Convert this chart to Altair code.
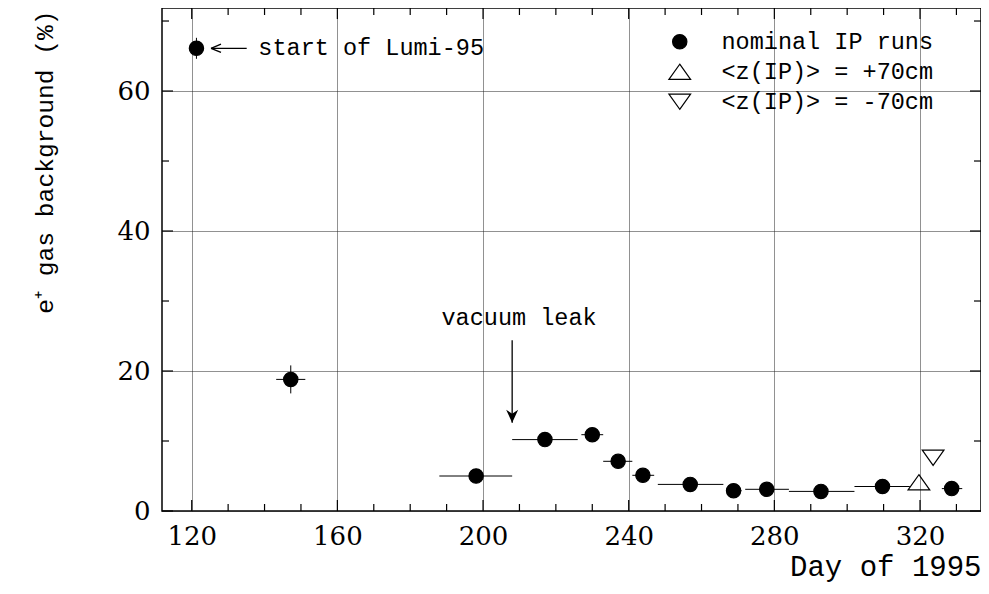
import altair as alt
import pandas as pd

# ---- data ----
days = [121.3, 147.2, 198.1, 217.0, 230.0, 237.1, 243.9, 256.9, 268.8, 277.9, 292.8, 309.7, 328.7]
values = [66.1, 18.8, 5.0, 10.2, 10.9, 7.1, 5.1, 3.8, 2.9, 3.1, 2.8, 3.5, 3.2]
x_lo = [120.5, 143.2, 188.0, 208.0, 227.0, 233.0, 241.0, 248.0, 267.0, 272.0, 284.0, 302.0, 326.0]
x_hi = [122.0, 151.2, 208.0, 226.0, 233.0, 241.0, 247.0, 266.0, 271.0, 284.0, 302.0, 317.2, 331.6]
y_err = [1.5, 2.0, 0.3, 0.3, 0.3, 0.3, 0.3, 0.3, 0.3, 0.3, 0.3, 0.3, 0.3]

z_days = [319.7, 323.6]
z_values = [4.1, 7.6]

series_names = ["nominal IP runs", "<z(IP)> = +70cm", "<z(IP)> = -70cm"]

x_major = [120, 160, 200, 240, 280, 320]
x_minor = [130, 140, 150, 170, 180, 190, 210, 220, 230, 250, 260, 270, 290, 300, 310, 330]
y_major = [0, 20, 40, 60]
y_minor = [10, 30, 50, 70]

lumi_label = ["start of Lumi-95"]
lumi_pos = [138.3, 66.1]
lumi_arrow = [125.3, 135.1, 66.1]
leak_label = ["vacuum leak"]
leak_pos = [188.6, 26.6]
leak_arrow = [208.0, 24.4, 12.6]

# ---- layout / style ----
W, H = 819, 503
XDOM = [111.84, 336.75]
YDOM = [0, 71.86]
xs = alt.Scale(domain=XDOM, nice=False, zero=False)
ys = alt.Scale(domain=YDOM, nice=False, zero=False)

CIRCLE = "M0.66,0A0.66,0.66,0,1,1,-0.66,0A0.66,0.66,0,1,1,0.66,0Z"
TRI_UP = "M0,-0.7L1,0.7L-1,0.7Z"
TRI_DN = "M0,0.7L1,-0.7L-1,-0.7Z"

main = pd.DataFrame({
    "day": days, "val": values, "xlo": x_lo, "xhi": x_hi,
    "ylo": [v - e for v, e in zip(values, y_err)],
    "yhi": [v + e for v, e in zip(values, y_err)],
})
pts = pd.DataFrame({
    "day": days + z_days,
    "val": values + z_values,
    "series": [series_names[0]] * len(days) + series_names[1:],
})

x_axis = alt.Axis(
    values=x_major, grid=True, gridDash=[1, 1], gridColor="#222", gridWidth=1,
    ticks=False, domain=False, labelFont="DejaVu Serif", labelFontSize=26,
    labelColor="black", labelPadding=12, labelFlush=False, labelOverlap=False,
    title="Day of 1995", titleFont="Liberation Mono", titleFontSize=29,
    titleFontWeight="normal", titleColor="black", titleAlign="right",
    titleBaseline="alphabetic", titleX=W, titleY=64, titleAnchor="end",
)
y_axis = alt.Axis(
    values=y_major, grid=True, gridDash=[1, 1], gridColor="#222", gridWidth=1,
    ticks=False, domain=False, labelFont="DejaVu Serif", labelFontSize=26,
    labelColor="black", labelPadding=12, labelBaseline="middle",
    title="e⁺ gas background (%)", titleFont="Liberation Mono", titleFontSize=24.6,
    titleFontWeight="normal", titleColor="black", titleAngle=270,
    titleAlign="right", titleBaseline="middle", titleX=-117, titleY=2,
)

leg = alt.Legend(
    title=None, orient="none", legendX=506, legendY=22, padding=0,
    labelFont="Liberation Mono", labelFontSize=23.5, labelColor="black",
    labelOffset=30, labelLimit=0, rowPadding=5, symbolSize=470,
    symbolStrokeWidth=1.2, symbolStrokeColor="black",
)


def X(field):
    return alt.X(field, scale=xs, axis=x_axis)


def Y(field):
    return alt.Y(field, scale=ys, axis=y_axis)


xbars = alt.Chart(main).mark_rule(color="black", strokeWidth=1).encode(
    x=X("xlo:Q"), x2="xhi:Q", y=Y("val:Q"),
)
ybars = alt.Chart(main).mark_rule(color="black", strokeWidth=1).encode(
    x=X("day:Q"), y=Y("ylo:Q"), y2="yhi:Q",
)
points = alt.Chart(pts).mark_point(filled=True, size=470, opacity=1, strokeWidth=1.2).encode(
    x=X("day:Q"),
    y=Y("val:Q"),
    shape=alt.Shape("series:N", scale=alt.Scale(domain=series_names, range=[CIRCLE, TRI_UP, TRI_DN]), legend=leg),
    fill=alt.Fill("series:N", scale=alt.Scale(domain=series_names, range=["black", "transparent", "transparent"]), legend=leg),
    stroke=alt.Stroke("series:N", scale=alt.Scale(domain=series_names, range=["black", "black", "black"]), legend=leg),
)


def tick_layer(vals, orient, length):
    d = pd.DataFrame({"t": vals})
    base = alt.Chart(d).mark_rule(color="black", strokeWidth=1.2)
    if orient == "bottom":
        return base.encode(x=X("t:Q"), y=alt.value(H), y2=alt.value(H - length))
    if orient == "top":
        return base.encode(x=X("t:Q"), y=alt.value(0), y2=alt.value(length))
    if orient == "left":
        return base.encode(y=Y("t:Q"), x=alt.value(0), x2=alt.value(length))
    return base.encode(y=Y("t:Q"), x=alt.value(W), x2=alt.value(W - length))


ticks = [
    tick_layer(x_major, "bottom", 11), tick_layer(x_minor, "bottom", 7),
    tick_layer(x_major, "top", 11), tick_layer(x_minor, "top", 7),
    tick_layer(y_major, "left", 11), tick_layer(y_minor, "left", 7),
    tick_layer(y_major, "right", 11), tick_layer(y_minor, "right", 7),
]

ann = pd.DataFrame({
    "x1": [lumi_arrow[0], leak_arrow[0]], "x2": [lumi_arrow[1], leak_arrow[0]],
    "y1": [lumi_arrow[2], leak_arrow[1]], "y2": [lumi_arrow[2], leak_arrow[2]],
})
arrow_lines = alt.Chart(ann).mark_rule(color="black", strokeWidth=1.3).encode(
    x=X("x1:Q"), x2="x2:Q", y=Y("y1:Q"), y2="y2:Q",
)
lumi_head = alt.Chart(pd.DataFrame({"x": [lumi_arrow[0]], "y": [lumi_arrow[2]]})).mark_point(
    shape="M0,0L1.2,-0.5M0,0L1.2,0.5", size=276, filled=False, color="black", strokeWidth=1.3, opacity=1
).encode(x=X("x:Q"), y=Y("y:Q"))
leak_head = alt.Chart(pd.DataFrame({"x": [leak_arrow[0]], "y": [leak_arrow[2]]})).mark_point(
    shape="M0,0L-0.6,-1.3L0,-0.9L0.6,-1.3Z", size=400, filled=True, color="black", opacity=1
).encode(x=X("x:Q"), y=Y("y:Q"))

lumi_text = alt.Chart(pd.DataFrame({"x": [lumi_pos[0]], "y": [lumi_pos[1]], "label": lumi_label})).mark_text(
    font="Liberation Mono", fontSize=23.5, color="black", align="left", baseline="middle"
).encode(x=X("x:Q"), y=Y("y:Q"), text="label:N")
leak_text = alt.Chart(pd.DataFrame({"x": [leak_pos[0]], "y": [leak_pos[1]], "label": leak_label})).mark_text(
    font="Liberation Mono", fontSize=23.5, color="black", align="left", baseline="alphabetic"
).encode(x=X("x:Q"), y=Y("y:Q"), text="label:N")

chart = alt.layer(
    xbars, ybars, *ticks, arrow_lines, lumi_head, leak_head, lumi_text, leak_text, points
).properties(
    width=W, height=H,
    padding={"left": 154, "top": 0, "right": 0, "bottom": 74},
    autosize=alt.AutoSizeParams(type="none"),
    background="white",
).configure_view(stroke="black", strokeWidth=1.5)

chart.save("out.html", embed_options={"renderer": "svg", "actions": False})
